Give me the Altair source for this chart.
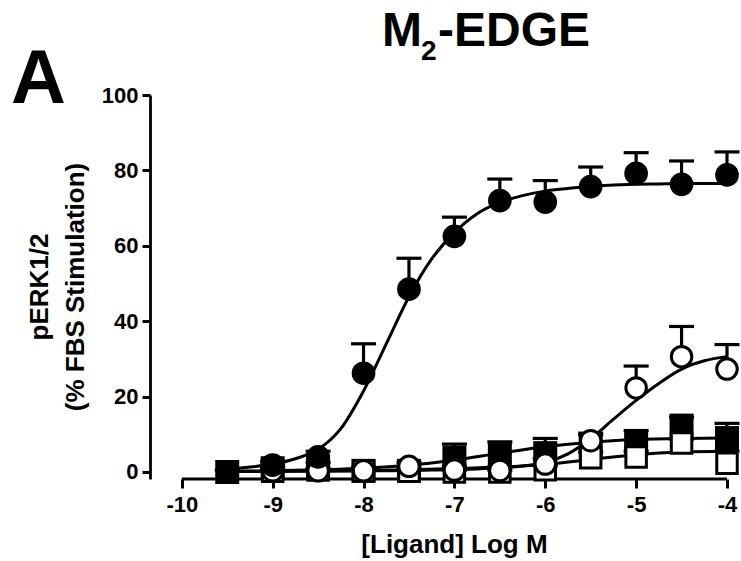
import altair as alt
import pandas as pd

# ---------------- data ----------------
x_fs = [-9.5, -9, -8.5, -8, -7.5, -7, -6.5, -6, -5.5, -5, -4.5, -4]
fs_mean = [0.0, 1.0, 1.5, 0.3, 0.3, 3.8, 4.6, 5.0, 6.8, 8.0, 12.3, 9.0]
fs_err = [0.5, 0.8, 1.0, 1.0, 1.0, 3.6, 3.4, 3.9, 3.5, 3.0, 2.3, 3.9]

x_pts = [-9, -8.5, -8, -7.5, -7, -6.5, -6, -5.5, -5, -4.5, -4]
fc_mean = [1.8, 4.0, 26.2, 48.5, 62.5, 72.0, 71.6, 75.7, 79.2, 76.3, 78.8]
fc_err = [1.0, 1.5, 7.8, 8.2, 5.1, 5.7, 5.7, 5.2, 5.5, 6.2, 6.1]
oc_mean = [0.3, 0.3, 0.3, 1.5, 0.5, 0.4, 2.1, 8.3, 22.3, 30.6, 27.3]
oc_err = [0.5, 0.5, 0.5, 1.0, 1.0, 1.0, 1.5, 1.5, 5.8, 8.0, 6.5]
os_mean = [0.2, 0.5, 0.3, 0.2, 0.0, 0.0, 0.6, 3.8, 4.0, 7.7, 2.3]
os_err = [0.5, 0.5, 0.5, 0.5, 0.5, 0.5, 1.0, 1.5, 1.5, 1.0, 3.3]

# fitted curves
curve_x = [-9.5, -9.25, -9, -8.75, -8.5, -8.25, -8, -7.75, -7.5, -7.25, -7, -6.75,
           -6.5, -6.25, -6, -5.75, -5.5, -5.25, -5, -4.75, -4.5, -4.25, -4]
fc_curve = [0.8, 1.3, 2.1, 3.5, 6.0, 11.5, 21.5, 34.0, 46.5, 56.5, 63.5, 68.5,
            71.5, 73.3, 74.5, 75.2, 75.8, 76.1, 76.3, 76.4, 76.5, 76.5, 76.6]
oc_curve = [0.2, 0.2, 0.2, 0.2, 0.2, 0.25, 0.3, 0.35, 0.4, 0.5, 0.6, 0.8,
            1.1, 1.6, 2.5, 4.8, 8.8, 14.0, 19.0, 23.5, 27.3, 29.5, 30.6]
curve_x2 = [-9.5, -9, -8.5, -8, -7.5, -7, -6.5, -6, -5.5, -5, -4.5, -4]
fs_curve = [0.1, 0.3, 0.6, 1.0, 1.8, 3.2, 5.0, 6.7, 7.9, 8.6, 8.9, 9.0]
os_curve = [0.1, 0.2, 0.3, 0.4, 0.6, 0.9, 1.3, 2.0, 3.3, 4.6, 5.3, 5.5]

x_ticks = [-10, -9, -8, -7, -6, -5, -4]
y_ticks = [0, 20, 40, 60, 80, 100]
title_parts = ["M", "2", "-EDGE"]
panel_label = "A"
y_title = ["pERK1/2", "(% FBS Stimulation)"]
x_title = "[Ligand] Log M"

# ---------------- chart ----------------
FONT = "Liberation Sans, Arial, Helvetica, sans-serif"
W, H = 577, 384

xs = alt.Scale(domain=[-10.35, -4.0], nice=False, zero=False)
ys = alt.Scale(domain=[-1.86, 100], nice=False, zero=False)
xaxis = alt.Axis(values=x_ticks, domain=False, grid=False, tickSize=9, tickWidth=3,
                 tickColor="black", labelFont=FONT, labelFontSize=22,
                 labelFontWeight="bold", labelColor="black", labelPadding=6,
                 labelExpr="toString(datum.value)", labelFlush=False,
                 labelOverlap=False, title=None)
yaxis = alt.Axis(values=y_ticks, domain=True, domainColor="black", domainWidth=2.8,
                 grid=False, tickSize=8, tickWidth=3, tickColor="black",
                 labelFont=FONT, labelFontSize=22, labelFontWeight="bold",
                 labelColor="black", labelPadding=4, title=None)

X = alt.X("x:Q", scale=xs, axis=xaxis)
Y = alt.Y("y:Q", scale=ys, axis=yaxis)


def df_pts(xv, m, e):
    return pd.DataFrame({"x": xv, "y": m, "top": [a + b for a, b in zip(m, e)]})


def curve(xv, yv):
    return alt.Chart(pd.DataFrame({"x": xv, "y": yv})).mark_line(
        color="black", strokeWidth=3, interpolate="monotone").encode(x=X, y=Y)


def errbars(d):
    stem = alt.Chart(d).mark_rule(color="black", strokeWidth=3.2).encode(
        x=X, y=Y, y2="top:Q")
    cap = alt.Chart(d).mark_tick(color="black", orient="horizontal", size=25,
                                 thickness=3.2, opacity=1).encode(
        x=X, y=alt.Y("top:Q", scale=ys, axis=yaxis))
    return [stem, cap]


d_fs = df_pts(x_fs, fs_mean, fs_err)
d_os = df_pts(x_pts, os_mean, os_err)
d_oc = df_pts(x_pts, oc_mean, oc_err)
d_fc = df_pts(x_pts, fc_mean, fc_err)

m_fs = alt.Chart(d_fs).mark_point(shape="square", filled=True, color="black",
                                  size=576, opacity=1).encode(x=X, y=Y)
m_os = alt.Chart(d_os).mark_point(shape="square", filled=True, fill="white",
                                  stroke="black", strokeWidth=3, size=420,
                                  opacity=1).encode(x=X, y=Y)
m_oc = alt.Chart(d_oc).mark_point(shape="circle", filled=True, fill="white",
                                  stroke="black", strokeWidth=3, size=420,
                                  opacity=1).encode(x=X, y=Y)
m_fc = alt.Chart(d_fc).mark_point(shape="circle", filled=True, color="black",
                                  size=560, opacity=1).encode(x=X, y=Y)

x_line = alt.Chart(pd.DataFrame({"x": [x_ticks[0]], "x2": [x_ticks[-1]]})).mark_rule(
    color="black", strokeWidth=2.8).encode(x=X, x2="x2:Q", y=alt.value(H))


def txt(s, x, y, size, angle=0, align="left"):
    kw = dict(text=s, font=FONT, fontSize=size, fontWeight="bold", color="black",
              align=align, baseline="alphabetic")
    if angle:
        kw["angle"] = angle
    return alt.Chart(pd.DataFrame({"k": [0]})).mark_text(**kw).encode(
        x=alt.value(x), y=alt.value(y))


texts = [
    txt(panel_label, -139, 8, 76),
    txt(title_parts[0], 232, -49, 48),
    txt(title_parts[1], 271, -35, 28),
    txt(title_parts[2], 288, -49, 48),
    txt(y_title[0], -102, 192, 26, angle=270, align="center"),
    txt(y_title[1], -66, 192, 26, angle=270, align="center"),
    txt(x_title, 304.5, 458, 26, align="center"),
]

layers = [x_line,
          curve(curve_x2, fs_curve), curve(curve_x2, os_curve),
          curve(curve_x, oc_curve), curve(curve_x, fc_curve)]
layers += errbars(d_fs) + [m_fs]
layers += errbars(d_os) + [m_os]
layers += errbars(d_oc) + [m_oc]
layers += errbars(d_fc) + [m_fc]
layers += texts

chart = alt.layer(*layers).properties(
    width=W, height=H,
    padding={"left": 150, "top": 95, "right": 14, "bottom": 82},
    autosize=alt.AutoSizeParams(type="none"),
    background="white",
).configure_view(stroke=None)

chart.save("out.html", embed_options={"renderer": "svg", "actions": False})
